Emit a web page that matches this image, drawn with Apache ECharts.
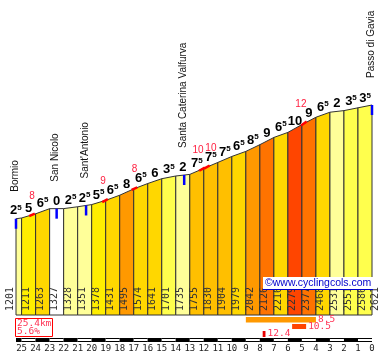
<!DOCTYPE html>
<html>
<head>
<meta charset="utf-8">
<script src="https://cdn.jsdelivr.net/npm/echarts/dist/echarts.min.js"></script>
<style>
html,body{margin:0;padding:0;background:#fff;}
#chart{width:386px;height:355px;}
</style>
</head>
<body>
<div id="chart"></div>
<script>
// ---- data ----
const kmPoints = [25.4,25,24,23,22,21,20,19,18,17,16,15,14,13,12,11,10,9,8,7,6,5,4,3,2,1,0];
const altitudes = [1201,1211,1263,1327,1328,1351,1378,1431,1495,1574,1641,1701,1735,1755,1830,1904,1979,2042,2126,2216,2279,2377,2468,2531,2551,2586,2621];
const gradients = [2.5,5,6.5,0,2.5,2.5,5.5,6.5,8,6.5,6,3.5,2,7.5,7.5,7.5,6.5,8.5,9,6.5,10,9,6.5,2,3.5,3.5];
const kmTicks = [25,24,23,22,21,20,19,18,17,16,15,14,13,12,11,10,9,8,7,6,5,4,3,2,1,0];
const placeNames = ['Bormio','San Nicolo',"Sant'Antonio",'Santa Caterina Valfurva','Passo di Gavia'];
const placeKm = [25.4,22.5,20.4,13.4,0];
const placeAlt = [1201,1327,1367,1747,2621];
const steepKm = [24.26,19.05,16.95,12.13,11.78,4.86];
const steepAlt = [1249,1428,1577,1820,1846,2390];
const steepVal = [8,9,8,10,10,12];
const maxFromKm = [9,5.7,7.8];
const maxToKm = [4,4.7,7.6];
const maxVal = [8.5,10.5,12.4];
const climbLength = '25.4km';
const climbAvg = '5.6%';
const siteText = '\u00a9www.cyclingcols.com';

function gradColor(g){
  if (g <= 0) return '#ffffff';
  if (g < 3) return '#ffff99';
  if (g < 4.5) return '#ffff4d';
  if (g < 6) return '#ffee00';
  if (g < 7) return '#ffd700';
  if (g < 8) return '#ffbf00';
  if (g < 9) return '#ff9900';
  if (g < 10) return '#ff7300';
  if (g < 12) return '#ff4500';
  return '#e80000';
}

const boldFont = 'Liberation Sans';
const monoFont = 'DejaVu Sans Mono';
const steepDx = [0,-2,0,-4,4,-3];
const legendRowY = [317,324,331];
const legendRowH = [5.5,5,6];

const chart = echarts.init(document.getElementById('chart'), null, {renderer:'canvas'});

const option = {
  animation:false,
  backgroundColor:'#ffffff',
  grid:{left:16,right:14,top:105,bottom:40},
  xAxis:{
    type:'value', min:0, max:25.4, inverse:true, interval:1,
    axisLine:{show:false}, axisTick:{show:false}, splitLine:{show:false},
    axisLabel:{
      margin:29, fontFamily:monoFont, fontSize:9, color:'#222',
      showMaxLabel:false,
      formatter:function(v){ return kmTicks.indexOf(v) >= 0 ? String(v) : ''; }
    }
  },
  yAxis:{type:'value', min:0, max:altitudes[altitudes.length-1], show:false},
  series:[
    {
      type:'custom', name:'profile', clip:false, z:2,
      data: gradients.map((g,i)=>[kmPoints[i], kmPoints[i+1], altitudes[i], altitudes[i+1], g]),
      encode:{x:[0,1], y:[2,3]},
      renderItem:function(params, api){
        const k0=api.value(0), k1=api.value(1), a0=api.value(2), a1=api.value(3), g=api.value(4);
        const p0=api.coord([k0,0]), p1=api.coord([k0,a0]), p2=api.coord([k1,a1]), p3=api.coord([k1,0]);
        const mx=(p1[0]+p2[0])/2, my=(p1[1]+p2[1])/2;
        const whole=Math.floor(g), half=(g%1)!==0;
        const txt = half ? '{n|'+whole+'}{s|5}' : '{n|'+whole+'}';
        return {type:'group', children:[
          {type:'polygon', shape:{points:[p0,p1,p2,p3]}, style:{fill:gradColor(g), stroke:'#333', lineWidth:1}},
          {type:'text', x: mx + ((k0-k1)<1 ? -3 : 0), y: my-7.5, z2:10,
           style:{text:txt, align:'center', verticalAlign:'middle',
             rich:{
               n:{fontSize:13, fontWeight:'bold', fontFamily:boldFont, fill:'#000', lineHeight:15},
               s:{fontSize:8, fontWeight:'bold', fontFamily:boldFont, fill:'#000', lineHeight:8, verticalAlign:'top'}
             }}}
        ]};
      }
    },
    {
      type:'custom', name:'altLabels', clip:false, z:3,
      data: altitudes.map((a,i)=>[kmPoints[i], a]),
      encode:{x:0, y:1},
      renderItem:function(params, api){
        const i=params.dataIndex;
        const p=api.coord([api.value(0),0]);
        let dx=4.5;
        if (i===0) dx=-6;
        if (i===altitudes.length-1) dx=3;
        return {type:'text', x:p[0]+dx, y:p[1]-4, rotation:Math.PI/2,
          style:{text:String(api.value(1)), align:'left', verticalAlign:'middle', fontFamily:monoFont, fontSize:10, fill:'#333'}};
      }
    },
    {
      type:'custom', name:'places', clip:false, z:4,
      data: placeKm.map((k,i)=>[k, placeAlt[i]]),
      encode:{x:0, y:1},
      renderItem:function(params, api){
        const i=params.dataIndex;
        const p=api.coord([api.value(0), api.value(1)]);
        return {type:'group', children:[
          {type:'rect', shape:{x:p[0]-1.25, y:p[1], width:2.5, height:10}, style:{fill:'#0000ff'}},
          {type:'text', x:p[0]-1, y:p[1]-27, rotation:Math.PI/2,
           style:{text:placeNames[i], align:'left', verticalAlign:'middle', fontFamily:'Liberation Sans', fontSize:10, fill:'#111'}}
        ]};
      }
    },
    {
      type:'custom', name:'steep', clip:false, z:5,
      data: steepKm.map((k,i)=>[k, steepAlt[i], steepVal[i]]),
      encode:{x:0, y:1},
      renderItem:function(params, api){
        const i=params.dataIndex;
        const k=api.value(0), a=api.value(1), v=api.value(2);
        const pa=api.coord([k+0.2, a-v*2]), pb=api.coord([k-0.2, a+v*2]);
        const pc=api.coord([k, a]);
        return {type:'group', children:[
          {type:'line', shape:{x1:pa[0], y1:pa[1], x2:pb[0], y2:pb[1]}, style:{stroke:'#ff0000', lineWidth:2.5}},
          {type:'text', x:pc[0]+steepDx[i], y:pc[1]-19,
           style:{text:String(v), align:'center', verticalAlign:'middle', fontFamily:'Liberation Sans', fontSize:10, fill:'#ff2040'}}
        ]};
      }
    },
    {
      type:'custom', name:'scale', clip:false, z:2,
      data: gradients.map((g,i)=>[kmPoints[i], kmPoints[i+1]]),
      encode:{x:[0,1]},
      renderItem:function(params, api){
        const k0=api.value(0), k1=api.value(1);
        const x0=api.coord([k0,0])[0], x1=api.coord([k1,0])[0];
        const ch=[{type:'rect', shape:{x:x0, y:338, width:x1-x0, height:4}, style:{fill:'#000'}}];
        if (Number.isInteger(k0) && k0%2===1) {
          ch.push({type:'rect', shape:{x:x0, y:339, width:x1-x0, height:2}, style:{fill:'#fff'}});
        }
        return {type:'group', children:ch};
      }
    },
    {
      type:'custom', name:'maxSections', clip:false, z:2,
      data: maxVal.map((v,i)=>[maxFromKm[i], maxToKm[i], v]),
      encode:{x:[0,1]},
      renderItem:function(params, api){
        const i=params.dataIndex;
        const x0=api.coord([api.value(0),0])[0], x1=api.coord([api.value(1),0])[0];
        const v=api.value(2);
        return {type:'group', children:[
          {type:'rect', shape:{x:x0, y:legendRowY[i], width:x1-x0, height:legendRowH[i]}, style:{fill:gradColor(v)}},
          {type:'text', x:x1+2, y:legendRowY[i]+3, style:{text:v.toFixed(1), align:'left', verticalAlign:'middle', fontFamily:monoFont, fontSize:9.5, fill:'#ff3355'}}
        ]};
      }
    }
  ],
  graphic:[
    {type:'rect', z:100, shape:{x:15.5, y:318.5, width:37, height:18}, style:{fill:'#fff', stroke:'#ff0000', lineWidth:1}},
    {type:'text', z:101, x:17, y:323.5, style:{text:climbLength, fontFamily:monoFont, fontSize:9.5, fill:'#ff3355', verticalAlign:'middle'}},
    {type:'text', z:101, x:17, y:331.5, style:{text:climbAvg, fontFamily:monoFont, fontSize:9.5, fill:'#ff3355', verticalAlign:'middle'}},
    {type:'rect', z:100, shape:{x:263, y:277, width:110, height:13}, style:{fill:'#fff'}},
    {type:'text', z:101, x:265, y:283.5, style:{text:siteText, fontFamily:'Liberation Sans', fontSize:10.5, fill:'#0000cc', verticalAlign:'middle'}},
    {type:'line', z:101, shape:{x1:263, y1:289.5, x2:373, y2:289.5}, style:{stroke:'#0000cc', lineWidth:1}}
  ]
};
chart.setOption(option);
</script>
</body>
</html>
